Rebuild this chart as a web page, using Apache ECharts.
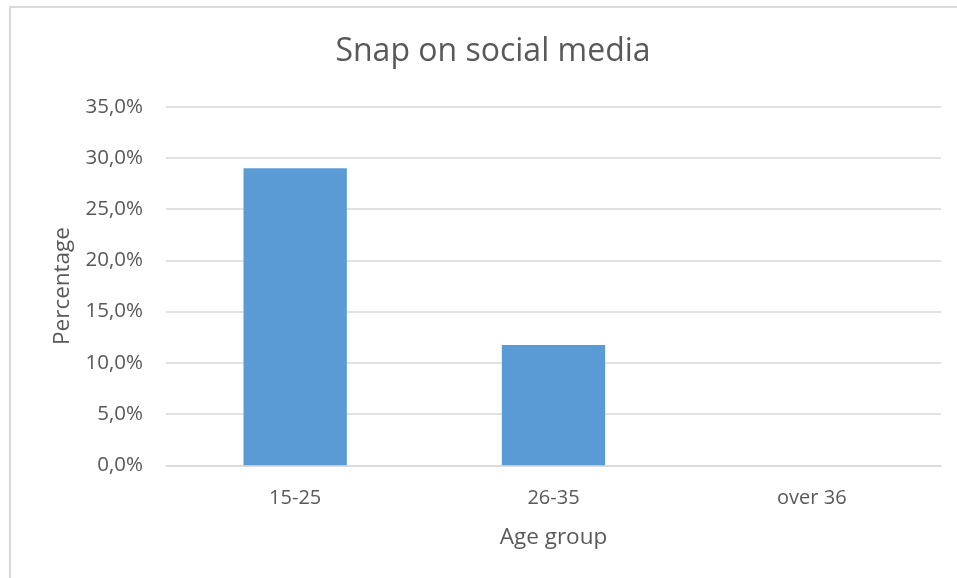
<!DOCTYPE html>
<html>
<head>
<meta charset="utf-8">
<script src="https://cdn.jsdelivr.net/npm/echarts@6/dist/echarts.min.js"></script>
<style>
  html, body { margin: 0; padding: 0; background: #ffffff; }
  #chart { width: 957px; height: 578px; }
</style>
</head>
<body>
<div id="chart"></div>
<script>
// Share of people who snap on social media, by age group (percent)
const categories = ['15-25', '26-35', 'over 36'];
const values = [29.0, 11.75, 0];
const yTicks = [0, 5, 10, 15, 20, 25, 30, 35];

const textColor = '#595959';
const gridColor = '#D9D9D9';
const font = 'Open Sans';

const chart = echarts.init(document.getElementById('chart'));
chart.setOption({
  animation: false,
  backgroundColor: '#ffffff',
  title: {
    text: 'Snap on social media',
    left: 488,
    top: 31,
    textAlign: 'center',
    textStyle: { fontFamily: font, fontSize: 32, fontWeight: 'normal', color: textColor }
  },
  graphic: [{
    type: 'rect',
    shape: { x: 10, y: 7, width: 1200, height: 900 },
    style: { fill: 'none', stroke: gridColor, lineWidth: 2 },
    silent: true
  }],
  grid: { left: 166, right: 16, top: 106.7, bottom: 112.7 },
  xAxis: {
    type: 'category',
    data: categories,
    name: 'Age group',
    nameLocation: 'middle',
    nameGap: 61,
    nameTextStyle: { fontFamily: font, fontSize: 22.5, color: textColor },
    axisLine: { lineStyle: { color: gridColor, width: 1.5 } },
    axisTick: { show: false },
    axisLabel: { fontFamily: font, fontSize: 20, color: textColor, margin: 23 }
  },
  yAxis: {
    type: 'value',
    min: yTicks[0],
    max: yTicks[yTicks.length - 1],
    interval: yTicks[1] - yTicks[0],
    name: 'Percentage',
    nameLocation: 'middle',
    nameGap: 92,
    nameTextStyle: { fontFamily: font, fontSize: 22.5, color: textColor },
    axisLine: { show: false },
    axisTick: { show: false },
    splitLine: { lineStyle: { color: gridColor, width: 1.5 } },
    axisLabel: {
      fontFamily: font, fontSize: 20.5, color: textColor, margin: 23,
      formatter: v => v.toFixed(1).replace('.', ',') + '%'
    }
  },
  series: [{
    type: 'bar',
    data: values,
    barWidth: '40%',
    itemStyle: { color: '#5B9BD5' }
  }]
});
</script>
</body>
</html>
